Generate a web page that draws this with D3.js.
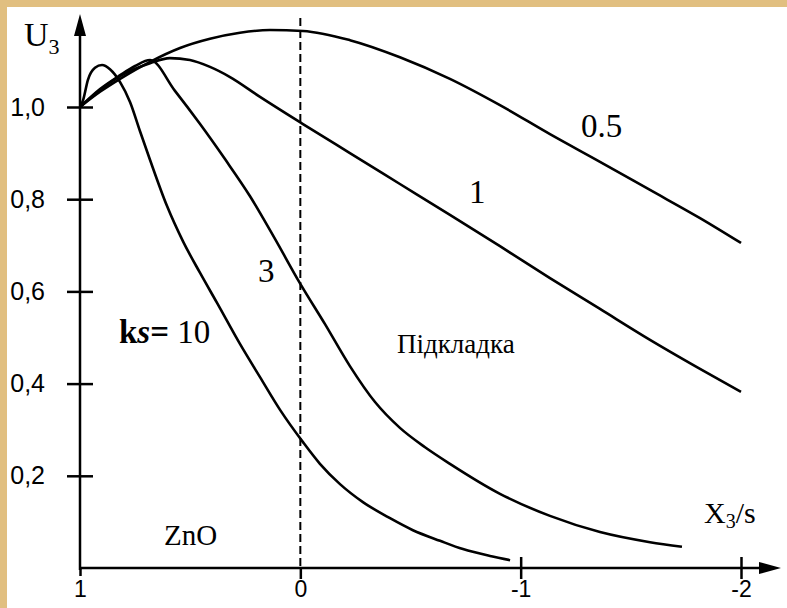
<!DOCTYPE html>
<html>
<head>
<meta charset="utf-8">
<script src="https://cdn.jsdelivr.net/npm/d3@7"></script>
<style>
  body { margin: 0; background: #fff; }
  svg { display: block; }
</style>
</head>
<body>
<div id="chart"></div>
<script>
// curves U3(X3/s) for several ks
const ks10 = [[1,1.0],[0.986,1.015],[0.964,1.059],[0.932,1.085],[0.9,1.091],[0.864,1.082],[0.818,1.054],
  [0.773,1.011],[0.728,0.948],[0.682,0.885],[0.605,0.785],[0.533,0.709],[0.455,0.64],[0.378,0.575],
  [0.274,0.486],[0.183,0.414],[0.092,0.343],[-0.012,0.273],[-0.089,0.226],[-0.18,0.182],[-0.284,0.143],
  [-0.407,0.108],[-0.511,0.082],[-0.634,0.059],[-0.738,0.041],[-0.861,0.026],[-0.952,0.017]];
const ks3 = [[1,1.0],[0.909,1.039],[0.818,1.069],[0.75,1.089],[0.682,1.102],[0.569,1.035],[0.455,0.963],
  [0.342,0.887],[0.229,0.807],[0.115,0.714],[0.002,0.618],[-0.112,0.529],[-0.225,0.438],[-0.339,0.36],
  [-0.452,0.304],[-0.566,0.262],[-0.679,0.226],[-0.906,0.161],[-1.133,0.113],[-1.36,0.078],[-1.587,0.056],
  [-1.732,0.046]];
const ks1 = [[1,1.0],[0.909,1.037],[0.818,1.067],[0.682,1.095],[0.592,1.106],[0.501,1.102],[0.41,1.087],
  [0.319,1.065],[0.183,1.022],[-0.012,0.963],[-0.225,0.9],[-0.452,0.833],[-0.679,0.766],[-0.906,0.698],
  [-1.133,0.629],[-1.36,0.562],[-1.587,0.495],[-1.814,0.432],[-2.0,0.382]];
const ks05 = [[1,1.0],[0.909,1.033],[0.818,1.061],[0.682,1.098],[0.546,1.128],[0.41,1.148],[0.274,1.161],
  [0.138,1.167],[-0.012,1.165],[-0.225,1.145],[-0.452,1.108],[-0.679,1.061],[-0.906,1.004],[-1.133,0.941],
  [-1.36,0.881],[-1.587,0.82],[-1.814,0.759],[-2.0,0.705]];

const yTicks = [0.2, 0.4, 0.6, 0.8, 1.0];
const xTicks = [1, 0, -1, -2];

const W = 787, H = 608;
const svg = d3.select("#chart").append("svg").attr("width", W).attr("height", H);

// parchment frame
svg.append("rect").attr("width", W).attr("height", H).attr("fill", "#e1bf80");
svg.append("rect").attr("x", 7).attr("y", 7).attr("width", W - 7).attr("height", H - 7).attr("fill", "#fff");

const x = d3.scaleLinear().domain([1, -2]).range([80, 741]);
const y = d3.scaleLinear().domain([0, 1]).range([568, 107]);

const sans = "'Liberation Sans', Arial, sans-serif";
const serif = "'Liberation Serif', 'Times New Roman', serif";

// y axis
const gy = svg.append("g").attr("transform", `translate(${x(1)},0)`)
  .call(d3.axisLeft(y).tickValues(yTicks).tickSize(13).tickPadding(22)
    .tickFormat(d => d.toFixed(1).replace(".", ",")));
gy.select(".domain").remove();
gy.selectAll(".tick line").attr("x2", -13).attr("x1", 13).attr("stroke", "#000").attr("stroke-width", 2.5);
gy.selectAll(".tick text").attr("font-family", sans).attr("font-size", 25).attr("fill", "#000");

// x axis
const gx = svg.append("g").attr("transform", `translate(0,${y(0)})`)
  .call(d3.axisBottom(x).tickValues(xTicks).tickSize(11).tickPadding(2).tickFormat(d => String(d)));
gx.select(".domain").remove();
gx.selectAll(".tick line").attr("stroke", "#000").attr("stroke-width", 2.5)
  .attr("y1", d => (d < 0 ? -11 : 0)).attr("y2", d => (d === 1 ? 8 : 11));
gx.selectAll(".tick text").attr("font-family", sans).attr("font-size", 23).attr("fill", "#000");

// axis lines with arrows
svg.append("line").attr("x1", x(1)).attr("x2", x(1)).attr("y1", y(0) + 2).attr("y2", 30)
  .attr("stroke", "#000").attr("stroke-width", 2.5);
svg.append("path").attr("d", `M${x(1)},14 L${x(1) - 6},36 L${x(1) + 6},36 Z`).attr("fill", "#000");
svg.append("line").attr("x1", x(1) - 1).attr("x2", 765).attr("y1", y(0)).attr("y2", y(0))
  .attr("stroke", "#000").attr("stroke-width", 2.5);
svg.append("path").attr("d", `M781,${y(0)} L759,${y(0) - 6} L759,${y(0) + 6} Z`).attr("fill", "#000");

// dashed interface line at X3/s = 0
svg.append("line").attr("x1", x(0)).attr("x2", x(0)).attr("y1", 18).attr("y2", y(0))
  .attr("stroke", "#000").attr("stroke-width", 2).attr("stroke-dasharray", "8,4");

// curves
const line = d3.line().x(d => x(d[0])).y(d => y(d[1])).curve(d3.curveMonotoneX);
[ks10, ks3, ks1, ks05].forEach(s => {
  svg.append("path").attr("d", line(s)).attr("fill", "none")
    .attr("stroke", "#000").attr("stroke-width", 2.6);
});

// labels
function label(tx, ty, txt, size) {
  return svg.append("text").attr("x", tx).attr("y", ty).attr("font-family", serif)
    .attr("font-size", size).attr("fill", "#000").text(txt);
}
label(581, 137, "0.5", 33);
label(469, 203, "1", 33);
label(258, 282, "3", 33);
const ksl = svg.append("text").attr("x", 119).attr("y", 343).attr("font-family", serif)
  .attr("font-size", 33).attr("fill", "#000");
ksl.append("tspan").attr("font-weight", "bold").text("k");
ksl.append("tspan").attr("font-weight", "bold").attr("font-style", "italic").text("s");
ksl.append("tspan").attr("font-weight", "bold").text("=");
ksl.append("tspan").text(" 10");
label(397, 353, "Підкладка", 27);
label(164, 545, "ZnO", 29);

const xl = svg.append("text").attr("x", 704).attr("y", 523).attr("font-family", serif)
  .attr("font-size", 30).attr("fill", "#000");
xl.append("tspan").text("X");
xl.append("tspan").attr("font-size", 20).attr("dy", 5).text("3");
xl.append("tspan").attr("dy", -5).text("/s");

const ul = svg.append("text").attr("x", 24).attr("y", 46).attr("font-family", serif)
  .attr("font-size", 34).attr("fill", "#000");
ul.append("tspan").text("U");
ul.append("tspan").attr("font-size", 22).attr("dy", 8).text("3");
</script>
</body>
</html>
